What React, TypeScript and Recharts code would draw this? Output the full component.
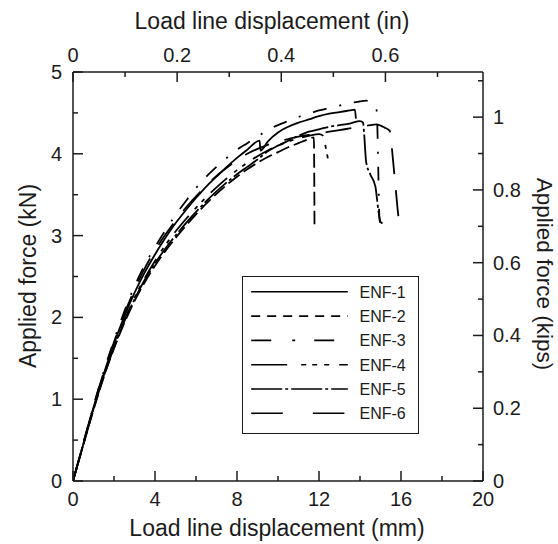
import { LineChart, Line, XAxis, YAxis, Legend, Label } from "recharts";

const FONT = '"Liberation Sans", Arial, Helvetica, sans-serif';
const INK = "#1b1b1b";

// axis ticks (minor ticks carry an empty label)
const MM_TICKS = [0, 2, 4, 6, 8, 10, 12, 14, 16, 18, 20];
const MM_LABELS = ["0", "", "4", "", "8", "", "12", "", "16", "", "20"];
const IN_TICKS = [0, 0.1, 0.2, 0.3, 0.4, 0.5, 0.6, 0.7];
const IN_LABELS = ["0", "", "0.2", "", "0.4", "", "0.6", ""];
const KN_TICKS = [0, 0.5, 1, 1.5, 2, 2.5, 3, 3.5, 4, 4.5, 5];
const KN_LABELS = ["0", "", "1", "", "2", "", "3", "", "4", "", "5"];
const KIPS_TICKS = [0, 0.1, 0.2, 0.3, 0.4, 0.5, 0.6, 0.7, 0.8, 0.9, 1, 1.1];
const KIPS_LABELS = ["0", "", "0.2", "", "0.4", "", "0.6", "", "0.8", "", "1", ""];

const MM_PER_IN = 25.4;
const MM_MAX = 20;
const KN_MAX = 5;
const KIPS_MAX = 5 / 4.448;

// top axis shares the mm scale; inch ticks placed at their mm equivalent
const IN_TICKS_MM = IN_TICKS.map((v) => v * MM_PER_IN);

// [displacement mm, force kN]
const ENF1: [number, number][] = [
  [0, 0], [0.5, 0.45], [1, 0.9], [1.5, 1.31], [2, 1.68], [2.5, 2.01], [3, 2.3], [3.5, 2.55],
  [4, 2.77], [4.5, 2.97], [5, 3.15], [5.5, 3.31], [6, 3.46], [6.5, 3.6], [7, 3.72], [7.5, 3.84],
  [8, 3.95], [8.5, 4.05], [9.1, 4.16], [9.15, 4.04], [9.5, 4.15], [10, 4.26], [10.5, 4.33],
  [11, 4.38], [11.5, 4.42], [12, 4.46], [12.5, 4.49], [13, 4.51], [13.5, 4.53], [13.75, 4.54],
  [13.8, 4.43],
];
const ENF2: [number, number][] = [
  [0, 0], [0.5, 0.44], [1, 0.87], [1.5, 1.27], [2, 1.62], [2.5, 1.93], [3, 2.2], [3.5, 2.43],
  [4, 2.63], [4.5, 2.81], [5, 2.97], [5.5, 3.12], [6, 3.26], [6.5, 3.39], [7, 3.51], [7.5, 3.62],
  [8, 3.72], [8.5, 3.81], [9, 3.89], [9.5, 3.96], [10, 4.02], [10.5, 4.08], [11, 4.13],
  [11.5, 4.18], [11.75, 4.2], [11.78, 3.14],
];
const ENF3: [number, number][] = [
  [0, 0], [0.5, 0.46], [1, 0.92], [1.5, 1.34], [2, 1.72], [2.5, 2.07], [3, 2.38], [3.5, 2.64],
  [4, 2.86], [4.5, 3.06], [5, 3.25], [5.5, 3.42], [6, 3.58], [6.5, 3.72], [7, 3.84], [7.5, 3.95],
  [8, 4.05], [8.5, 4.13], [9, 4.21], [9.5, 4.29], [10, 4.35], [10.5, 4.4], [11, 4.45],
  [11.5, 4.49], [12, 4.53], [12.5, 4.56], [13, 4.59], [13.5, 4.62], [14, 4.64], [14.3, 4.65],
  [14.8, 4.55], [14.85, 4.3], [14.9, 3.7], [14.95, 3.2], [15, 3.15],
];
const ENF4: [number, number][] = [
  [0, 0], [0.5, 0.45], [1, 0.89], [1.5, 1.29], [2, 1.64], [2.5, 1.96], [3, 2.24], [3.5, 2.48],
  [4, 2.69], [4.5, 2.88], [5, 3.05], [5.5, 3.2], [6, 3.34], [6.5, 3.47], [7, 3.59], [7.5, 3.7],
  [8, 3.8], [8.5, 3.89], [9, 3.97], [9.5, 4.04], [10, 4.1], [10.5, 4.15], [11, 4.19],
  [11.5, 4.22], [12, 4.24], [12.2, 4.22], [12.35, 4.05], [12.5, 3.85],
];
const ENF5: [number, number][] = [
  [0, 0], [0.5, 0.44], [1, 0.88], [1.5, 1.28], [2, 1.63], [2.5, 1.95], [3, 2.22], [3.5, 2.46],
  [4, 2.66], [4.5, 2.84], [5, 3.0], [5.5, 3.15], [6, 3.29], [6.5, 3.42], [7, 3.54], [7.5, 3.65],
  [8, 3.75], [8.5, 3.84], [9, 3.93], [9.5, 4.03], [10, 4.1], [10.5, 4.16], [11, 4.22],
  [11.5, 4.27], [12, 4.3], [12.5, 4.33], [13, 4.35], [13.5, 4.37], [14, 4.4], [14.15, 4.38],
  [14.2, 4.25], [14.3, 3.9], [14.5, 3.75], [14.75, 3.6], [14.9, 3.3], [15, 3.17], [15.1, 3.15],
];
const ENF6: [number, number][] = [
  [0, 0], [0.5, 0.46], [1, 0.91], [1.5, 1.33], [2, 1.7], [2.5, 2.04], [3, 2.34], [3.5, 2.6],
  [4, 2.82], [4.5, 3.01], [5, 3.18], [5.5, 3.34], [6, 3.48], [6.5, 3.61], [7, 3.73], [7.5, 3.83],
  [8, 3.92], [8.5, 4.0], [9, 4.06], [9.5, 4.11], [10, 4.15], [10.5, 4.18], [11, 4.21],
  [11.5, 4.23], [12, 4.25], [12.5, 4.27], [13, 4.29], [13.5, 4.31], [14, 4.33], [14.5, 4.35],
  [14.8, 4.36], [15.2, 4.32], [15.45, 4.28], [15.6, 3.95], [15.75, 3.55], [15.9, 3.2],
  [16.05, 3.12],
];

const SERIES = [
  { name: "ENF-1", data: ENF1, dash: undefined, legendDash: undefined },
  { name: "ENF-2", data: ENF2, dash: "14 5", legendDash: "9 7" },
  { name: "ENF-3", data: ENF3, dash: "14 13 2 13", legendDash: "20 21 3 19" },
  { name: "ENF-4", data: ENF4, dash: "22 9 4 6 4 9", legendDash: "36 14 5 6 5 7 5 10" },
  { name: "ENF-5", data: ENF5, dash: "30 3 3 3", legendDash: "31 3 3 3" },
  { name: "ENF-6", data: ENF6, dash: "26 16", legendDash: "31.6 30" },
];

const toPoints = (rows: [number, number][]) => rows.map(([x, y]) => ({ x, y }));

type Side = "bottom" | "top" | "left" | "right";

function makeTick(side: Side, ticks: number[], labels: string[]) {
  return (props: any) => {
    const { x, y, payload } = props;
    const i = ticks.findIndex((t) => Math.abs(t - payload.value) < 1e-6);
    const label = labels[i] ?? "";
    const len = label ? 10 : 5;
    const txt = { fontSize: 20, fontFamily: FONT, fill: INK };
    if (side === "bottom")
      return (
        <g>
          <line x1={x} y1={y} x2={x} y2={y - len} stroke={INK} strokeWidth={1.5} />
          {label && <text x={x} y={y + 25} textAnchor="middle" {...txt}>{label}</text>}
        </g>
      );
    if (side === "top")
      return (
        <g>
          <line x1={x} y1={y} x2={x} y2={y + len} stroke={INK} strokeWidth={1.5} />
          {label && <text x={x} y={y - 10} textAnchor="middle" {...txt}>{label}</text>}
        </g>
      );
    if (side === "left")
      return (
        <g>
          <line x1={x} y1={y} x2={x + len} y2={y} stroke={INK} strokeWidth={1.5} />
          {label && <text x={x - 11} y={y + 7} textAnchor="end" {...txt}>{label}</text>}
        </g>
      );
    return (
      <g>
        <line x1={x} y1={y} x2={x - len} y2={y} stroke={INK} strokeWidth={1.5} />
        {label && <text x={x + 10} y={y + 7} textAnchor="start" {...txt}>{label}</text>}
      </g>
    );
  };
}

const titleStyle = { fontSize: 23, fontFamily: FONT, fill: INK };

const LegendBox = () => (
  <div
    style={{
      width: 177,
      height: 158,
      border: `1.5px solid ${INK}`,
      boxSizing: "border-box",
      background: "#fff",
    }}
  >
    <svg width={174} height={155} style={{ display: "block" }}>
      {SERIES.map((s, i) => {
        const cy = 14.8 + i * 24.3;
        return (
          <g key={s.name}>
            <line x1={8.2} x2={104.8} y1={cy} y2={cy} stroke="#000" strokeWidth={1.6} strokeDasharray={s.legendDash} />
            <text x={116.5} y={cy + 5.8} fontSize={16} fontFamily={FONT} fill={INK}>
              {s.name}
            </text>
          </g>
        );
      })}
    </svg>
  </div>
);

export default function App() {
  const axisLine = { stroke: INK, strokeWidth: 1.5 };
  return (
    <div style={{ position: "absolute", left: 0, top: 0, width: 558, height: 544, background: "#fff" }}>
      <LineChart
        width={558}
        height={544}
        data={toPoints(ENF6)}
        margin={{ top: 0, right: 0, bottom: 0, left: 0 }}
      >
        <XAxis
          xAxisId="mm"
          type="number"
          dataKey="x"
          orientation="bottom"
          domain={[0, MM_MAX]}
          allowDataOverflow
          ticks={MM_TICKS}
          interval={0}
          height={63}
          tickSize={0}
          tickMargin={0}
          tickLine={false}
          axisLine={axisLine}
          tick={makeTick("bottom", MM_TICKS, MM_LABELS)}
        >
          <Label
            content={() => (
              <text x={277} y={536} textAnchor="middle" {...titleStyle}>
                Load line displacement (mm)
              </text>
            )}
          />
        </XAxis>
        <XAxis
          xAxisId="in"
          type="number"
          dataKey="x"
          orientation="top"
          domain={[0, MM_MAX]}
          allowDataOverflow
          ticks={IN_TICKS_MM}
          interval={0}
          height={72}
          tickSize={0}
          tickMargin={0}
          tickLine={false}
          axisLine={axisLine}
          tick={makeTick("top", IN_TICKS_MM, IN_LABELS)}
        >
          <Label
            content={() => (
              <text x={272} y={29} textAnchor="middle" {...titleStyle}>
                Load line displacement (in)
              </text>
            )}
          />
        </XAxis>
        <YAxis
          yAxisId="kN"
          type="number"
          orientation="left"
          domain={[0, KN_MAX]}
          allowDataOverflow
          ticks={KN_TICKS}
          interval={0}
          width={73}
          tickSize={0}
          tickMargin={0}
          tickLine={false}
          axisLine={axisLine}
          tick={makeTick("left", KN_TICKS, KN_LABELS)}
        >
          <Label
            content={() => (
              <text x={36} y={276} textAnchor="middle" transform="rotate(-90 36 276)" {...titleStyle}>
                Applied force (kN)
              </text>
            )}
          />
        </YAxis>
        <YAxis
          yAxisId="kips"
          type="number"
          orientation="right"
          domain={[0, KIPS_MAX]}
          allowDataOverflow
          ticks={KIPS_TICKS}
          interval={0}
          width={75}
          tickSize={0}
          tickMargin={0}
          tickLine={false}
          axisLine={axisLine}
          tick={makeTick("right", KIPS_TICKS, KIPS_LABELS)}
        >
          <Label
            content={() => (
              <text
                x={537}
                y={274}
                textAnchor="middle"
                transform="rotate(90 537 274)"
                {...titleStyle}
                fontSize={22.5}
              >
                Applied force (kips)
              </text>
            )}
          />
        </YAxis>
        <Legend
          layout="vertical"
          align="center"
          verticalAlign="middle"
          content={() => <LegendBox />}
          wrapperStyle={{ left: 242, top: 276, width: 177, height: 158 }}
        />
        {SERIES.map((s) => (
          <Line
            key={s.name}
            name={s.name}
            xAxisId="mm"
            yAxisId="kN"
            data={toPoints(s.data)}
            dataKey="y"
            type="monotone"
            stroke="#000"
            strokeWidth={1.8}
            strokeDasharray={s.dash}
            dot={false}
            activeDot={false}
            isAnimationActive={false}
          />
        ))}
      </LineChart>
    </div>
  );
}
